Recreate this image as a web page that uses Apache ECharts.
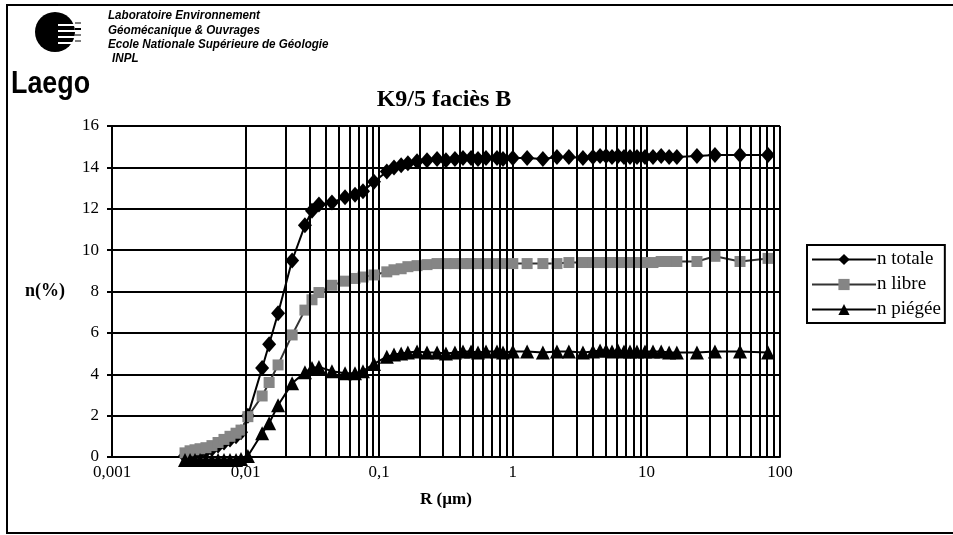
<!DOCTYPE html>
<html>
<head>
<meta charset="utf-8">
<script src="https://cdn.jsdelivr.net/npm/echarts@6/dist/echarts.min.js"></script>
<style>
html,body{margin:0;padding:0;background:#fff;}
#chart{width:953px;height:535px;}
</style>
</head>
<body>
<div id="chart"></div>
<script>
// ---- data ----
const seriesNames = ['n totale', 'n libre', 'n piégée'];
const radius = [0.00352, 0.00384, 0.00418, 0.00456, 0.00505, 0.00560, 0.00622, 0.00689, 0.00764, 0.00848,
  0.00924, 0.0104, 0.0133, 0.0150, 0.0175, 0.0223, 0.0278, 0.0314, 0.0354, 0.0443,
  0.0555, 0.0659, 0.0756, 0.0914, 0.114, 0.129, 0.146, 0.164, 0.192, 0.228,
  0.271, 0.316, 0.369, 0.424, 0.487, 0.549, 0.630, 0.762, 0.845, 1.00,
  1.28, 1.68, 2.14, 2.63, 3.35, 3.98, 4.50, 4.99, 5.53, 6.13,
  6.80, 7.54, 8.50, 9.76, 11.2, 12.9, 14.8, 16.9, 23.9, 32.6,
  50.2, 81.4];
const nTotale = [0.05, 0.15, 0.2, 0.25, 0.3, 0.4, 0.55, 0.7, 0.85, 1.0,
  1.2, 2.0, 4.3, 5.45, 6.95, 9.5, 11.2, 11.9, 12.2, 12.3,
  12.55, 12.68, 12.85, 13.3, 13.8, 14.0, 14.1, 14.2, 14.3, 14.35,
  14.4, 14.35, 14.4, 14.45, 14.45, 14.4, 14.45, 14.45, 14.4, 14.45,
  14.45, 14.4, 14.5, 14.5, 14.45, 14.5, 14.55, 14.55, 14.5, 14.55,
  14.5, 14.5, 14.5, 14.5, 14.5, 14.55, 14.5, 14.5, 14.55, 14.6,
  14.6, 14.6];
const nLibre = [0.2, 0.3, 0.35, 0.4, 0.45, 0.55, 0.7, 0.85, 1.0, 1.15,
  1.3, 1.95, 2.95, 3.6, 4.45, 5.9, 7.1, 7.6, 7.95, 8.3,
  8.5, 8.63, 8.7, 8.8, 8.95, 9.05, 9.1, 9.2, 9.25, 9.3,
  9.35, 9.35, 9.35, 9.35, 9.35, 9.35, 9.35, 9.35, 9.35, 9.35,
  9.35, 9.35, 9.35, 9.4, 9.4, 9.4, 9.4, 9.4, 9.4, 9.4,
  9.4, 9.4, 9.4, 9.4, 9.4, 9.45, 9.45, 9.45, 9.45, 9.7,
  9.45, 9.6];
const nPiegee = [-0.15, -0.15, -0.15, -0.15, -0.15, -0.15, -0.15, -0.15, -0.15, -0.15,
  -0.1, 0.05, 1.15, 1.63, 2.5, 3.56, 4.1, 4.3, 4.35, 4.15,
  4.05, 4.05, 4.15, 4.5, 4.85, 4.95, 5.0, 5.05, 5.1, 5.05,
  5.05, 5.0, 5.05, 5.1, 5.1, 5.05, 5.1, 5.1, 5.05, 5.1,
  5.1, 5.05, 5.1, 5.1, 5.05, 5.1, 5.15, 5.15, 5.1, 5.15,
  5.1, 5.1, 5.1, 5.1, 5.1, 5.1, 5.05, 5.05, 5.05, 5.1,
  5.1, 5.05];
const xTickLabels = ['0,001', '0,01', '0,1', '1', '10', '100'];
const yTicks = [0, 2, 4, 6, 8, 10, 12, 14, 16];
const titleText = 'K9/5 faciès B';
const xName = 'R (µm)';
const yName = 'n(%)';
const headerLines = ['Laboratoire Environnement', 'Géomécanique & Ouvrages',
  'Ecole Nationale Supérieure de Géologie', 'INPL'];

// minor vertical grid positions (2..9 within each decade)
const minorGrid = [];
for (let d = -3; d <= 1; d++) for (let m = 2; m <= 9; m++) minorGrid.push(m * Math.pow(10, d));

const zip = (ys) => radius.map((r, i) => [r, ys[i]]);
const serif = 'Liberation Serif, Times New Roman, serif';
const sans = 'Liberation Sans, Arial, sans-serif';

const chart = echarts.init(document.getElementById('chart'), null, {renderer: 'canvas'});

const graphics = [
  {type: 'rect', shape: {x: 7, y: 5, width: 1000, height: 528}, style: {fill: null, stroke: '#000', lineWidth: 2}, silent: true},
  {type: 'circle', shape: {cx: 55, cy: 32, r: 20}, style: {fill: '#000'}},
  {type: 'text', x: 11, y: 68, scaleX: 0.84, style: {text: 'Laego', font: 'bold 32px ' + sans, fill: '#000'}}
];
// logo stripes
[[-7, 1], [-1, 2], [5, 1], [11, 1]].forEach(([dy, w]) => {
  graphics.push({type: 'line', shape: {x1: 58, y1: 32 + dy, x2: 80, y2: 32 + dy}, style: {stroke: '#fff', lineWidth: 2}});
  graphics.push({type: 'line', shape: {x1: 75, y1: 30 + dy, x2: 81, y2: 30 + dy}, style: {stroke: '#000', lineWidth: w}});
});
headerLines.forEach((t, i) => {
  graphics.push({type: 'text', x: i === 3 ? 112 : 108, y: 10 + i * 14.3, scaleX: 0.97,
    style: {text: t, font: 'italic bold 12px ' + sans, fill: '#000'}});
});

const option = {
  animation: false,
  backgroundColor: '#fff',
  title: {
    text: titleText, left: 439, top: 83, textAlign: 'center',
    textStyle: {fontFamily: serif, fontWeight: 'bold', fontSize: 24, color: '#000'}
  },
  legend: {
    orient: 'vertical', left: 807, top: 245,
    itemWidth: 64, itemHeight: 14, itemGap: 6,
    padding: [5, 4, 4, 4],
    borderColor: '#000', borderWidth: 2,
    textStyle: {fontFamily: serif, fontSize: 19, color: '#000', lineHeight: 15, padding: [0, 0, 0, -4]},
    data: seriesNames
  },
  grid: {left: 112, right: 173, top: 126, bottom: 78, containLabel: false},
  xAxis: {
    type: 'log', logBase: 10, min: 0.001, max: 100,
    name: xName, nameLocation: 'middle', nameGap: 34,
    nameTextStyle: {fontFamily: serif, fontWeight: 'bold', fontSize: 17, color: '#000'},
    axisLine: {show: true, lineStyle: {color: '#000', width: 2}},
    axisTick: {show: false},
    axisLabel: {
      margin: 7, fontFamily: serif, fontSize: 17, color: '#000',
      formatter: (v) => xTickLabels[Math.round(Math.log10(v)) + 3]
    },
    splitLine: {show: true, lineStyle: {color: '#000', width: 2}},
    minorTick: {show: false}, minorSplitLine: {show: false}
  },
  yAxis: {
    type: 'value', min: yTicks[0], max: yTicks[yTicks.length - 1], interval: 2,
    name: yName, nameLocation: 'middle', nameRotate: 0, nameGap: 47,
    nameTextStyle: {fontFamily: serif, fontWeight: 'bold', fontSize: 18, color: '#000'},
    axisLine: {show: true, lineStyle: {color: '#000', width: 2}},
    axisTick: {show: true, inside: false, length: 5, lineStyle: {color: '#000', width: 2}},
    axisLabel: {margin: 13, fontFamily: serif, fontSize: 17, color: '#000'},
    splitLine: {show: true, lineStyle: {color: '#000', width: 2}}
  },
  graphic: graphics,
  series: [
    {
      name: '__grid', type: 'line', data: [], silent: true, z: 1,
      markLine: {
        silent: true, symbol: 'none', animation: false,
        label: {show: false},
        lineStyle: {color: '#000', width: 2, type: 'solid'},
        emphasis: {disabled: true},
        data: minorGrid.map(v => ({xAxis: v}))
      }
    },
    {
      name: seriesNames[0], type: 'line', data: zip(nTotale), clip: false, z: 3,
      symbol: 'diamond', symbolSize: [14, 16],
      itemStyle: {color: '#000'},
      lineStyle: {color: '#000', width: 2}
    },
    {
      name: seriesNames[1], type: 'line', data: zip(nLibre), clip: false, z: 4,
      symbol: 'rect', symbolSize: 11,
      itemStyle: {color: '#858585'},
      lineStyle: {color: '#333', width: 2}
    },
    {
      name: seriesNames[2], type: 'line', data: zip(nPiegee), clip: false, z: 5,
      symbol: 'triangle', symbolSize: 14,
      itemStyle: {color: '#000'},
      lineStyle: {color: '#000', width: 2}
    }
  ]
};
chart.setOption(option);
</script>
</body>
</html>
